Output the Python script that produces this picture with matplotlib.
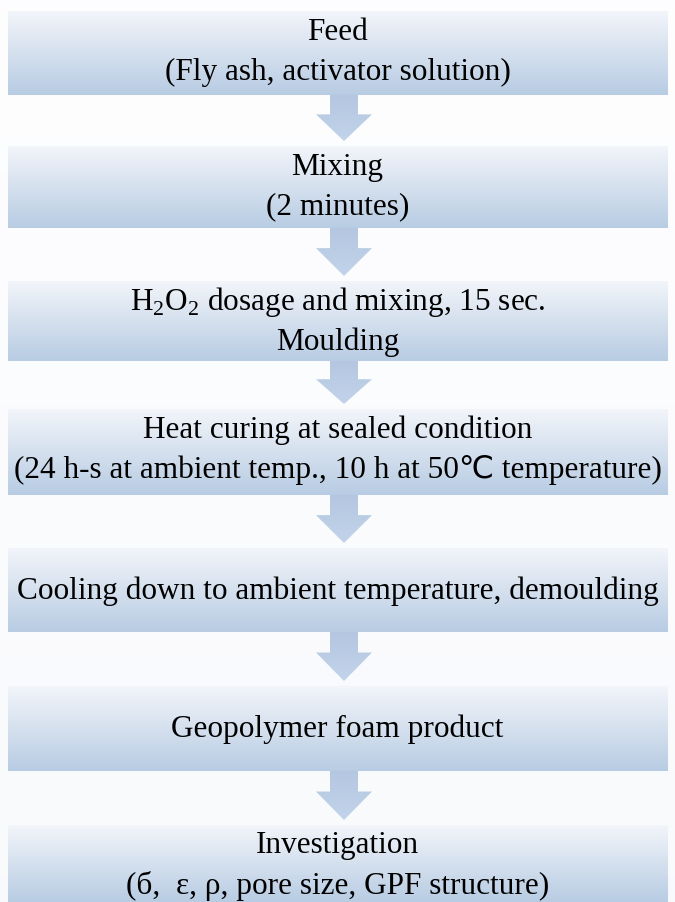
import numpy as np
import matplotlib.pyplot as plt
from matplotlib.patches import Polygon

plt.rcParams['font.family'] = ['Liberation Serif', 'DejaVu Sans']
plt.rcParams['mathtext.fontset'] = 'custom'
plt.rcParams['mathtext.rm'] = 'Liberation Serif'

# flowchart steps (lines of text in each box)
steps = [
    ["Feed", "(Fly ash, activator solution)"],
    ["Mixing", "(2 minutes)"],
    ["H$_2$O$_2$ dosage and mixing, 15 sec.", "Moulding"],
    ["Heat curing at sealed condition",
     "(24 h-s at ambient temp., 10 h at 50\u2103 temperature)"],
    ["Cooling down to ambient temperature, demoulding"],
    ["Geopolymer foam product"],
    ["Investigation", "(\u0431,  \u03b5, \u03c1, pore size, GPF structure)"],
]

# box layout in pixels (top, bottom)
box_top = [12, 147, 282, 410, 549, 687, 826]
box_bot = [96, 229, 362, 496, 633, 772, 903]
box_left, box_right = 8, 668

W, H = 675, 903
fig = plt.figure(figsize=(W / 100, H / 100), dpi=100)
ax = fig.add_axes([0, 0, 1, 1])
ax.set_xlim(0, W)
ax.set_ylim(H, 0)
ax.axis('off')

top_c = np.array([0.95, 0.96, 0.98])
bot_c = np.array([0.72, 0.80, 0.89])

def vgrad(c1, c2, n=100):
    t = np.linspace(0, 1, n)[:, None]
    g = c1[None, :] * (1 - t) + c2[None, :] * t
    return g[:, None, :]

# faint background
ax.imshow(vgrad(np.array([0.995, 0.995, 1.0]), np.array([0.975, 0.98, 0.99])),
          extent=[0, W, H, 0], aspect='auto', zorder=0)

for i, lines in enumerate(steps):
    t, b = box_top[i], box_bot[i]
    ax.imshow(vgrad(top_c, bot_c), extent=[box_left, box_right, b, t],
              aspect='auto', zorder=1, interpolation='bilinear')
    if len(lines) == 1:
        ys = [(t + b) / 2]
    else:
        ys = [t + 20, t + 60]
    for y, s in zip(ys, lines):
        ax.text(W / 2, y, s, ha='center', va='center',
                fontsize=22.5, color='black', zorder=3)

    # arrow to next box
    if i < len(steps) - 1:
        nt = box_top[i + 1]
        cx = 344
        head_y = b + (nt - b) * 0.38
        tip = nt - 5
        pts = [(cx - 14, b), (cx + 14, b), (cx + 14, head_y), (cx + 28, head_y),
               (cx, tip), (cx - 28, head_y), (cx - 14, head_y)]
        poly = Polygon(pts, closed=True, facecolor='none', edgecolor='none')
        ax.add_patch(poly)
        im = ax.imshow(vgrad(np.array([0.71, 0.78, 0.88]), np.array([0.76, 0.83, 0.92])),
                       extent=[cx - 30, cx + 30, tip, b], aspect='auto', zorder=2,
                       interpolation='bilinear')
        im.set_clip_path(poly)

plt.savefig('out.png', dpi=100)
